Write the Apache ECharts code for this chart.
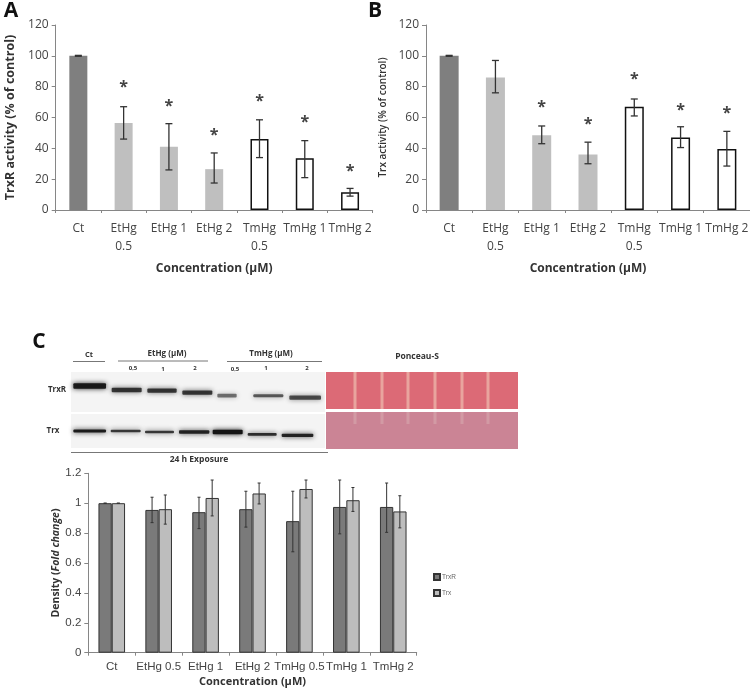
<!DOCTYPE html>
<html><head><meta charset="utf-8">
<style>html,body{margin:0;padding:0;background:#fff}#c{width:750px;height:689px}</style>
<script src="https://cdn.jsdelivr.net/npm/echarts@6/dist/echarts.min.js"></script>
</head><body><div id="c"></div>
<script>
const catsAB = ['Ct','EtHg\n0.5','EtHg 1','EtHg 2','TmHg\n0.5','TmHg 1','TmHg 2'];
const catsC = ['Ct','EtHg 0.5','EtHg 1','EtHg 2','TmHg 0.5','TmHg 1','TmHg 2'];

const trxrActivity = [100,56.5,41,26.5,46,33.5,11.5];
const trxrLow = [99.7,46,26,17.5,34,21,9];
const trxrHigh = [100.3,67,56,37,58.5,45,14];
const trxrStars = [null,81.7,69.2,50.5,72.4,58.8,27];

const trxActivity = [100,86,48.5,36,67,47,39.5];
const trxLow = [99.7,76,43,30,61,40.5,28.5];
const trxHigh = [100.3,97,54.5,44,72,54,51];
const trxStars = [null,null,68.5,57.3,86.5,66.4,64.9];

const densityTrxR = [1,0.955,0.94,0.96,0.88,0.975,0.975];
const densityTrxRLow = [1,0.87,0.83,0.84,0.675,0.795,0.805];
const densityTrxRHigh = [1,1.04,1.04,1.08,1.08,1.155,1.135];
const densityTrx = [1,0.96,1.035,1.065,1.095,1.02,0.945];
const densityTrxLow = [1,0.86,0.915,0.995,1.035,0.945,0.835];
const densityTrxHigh = [1,1.055,1.155,1.135,1.155,1.105,1.05];

const barFills = ['#7f7f7f','#bfbfbf','#bfbfbf','#bfbfbf','#ffffff','#ffffff','#ffffff'];
const FONT = '"Open Sans"';

function errSeries(idx, low, high, offset, cap, color, width){
  return {type:'custom',xAxisIndex:idx,yAxisIndex:idx,silent:true,clip:false,z:5,
    data:low.map((l,i)=>[i,l,high[i]]),
    renderItem:(p,api)=>{
      const a=api.coord([api.value(0),api.value(1)]),b=api.coord([api.value(0),api.value(2)]);
      const x=a[0]+offset, st={stroke:color,lineWidth:width};
      return {type:'group',children:[
        {type:'line',shape:{x1:x,y1:a[1],x2:x,y2:b[1]},style:st},
        {type:'line',shape:{x1:x-cap,y1:a[1],x2:x+cap,y2:a[1]},style:st},
        {type:'line',shape:{x1:x-cap,y1:b[1],x2:x+cap,y2:b[1]},style:st}]};
    }};
}
function starSeries(idx, stars){
  return {type:'custom',xAxisIndex:idx,yAxisIndex:idx,silent:true,clip:false,z:6,
    data:stars.map((s,i)=>[i,s]).filter(d=>d[1]!==null),
    renderItem:(p,api)=>{
      const c=api.coord([api.value(0),api.value(1)]);
      return {type:'text',x:c[0],y:c[1]+3,style:{text:'*',fill:'#444',font:'bold 16px '+FONT,textAlign:'center',textVerticalAlign:'middle'}};
    }};
}
function activityBar(idx,name,vals,w){
  return {type:'bar',name,xAxisIndex:idx,yAxisIndex:idx,barWidth:w,silent:true,
    data:vals.map((v,i)=>({value:v,itemStyle:{color:barFills[i],
      borderColor:barFills[i]==='#ffffff'?'#111':barFills[i],borderWidth:barFills[i]==='#ffffff'?1.5:0}}))};
}
function xAx(idx,cats,font,size,margin,gap){
  return {type:'category',gridIndex:idx,data:cats,
    name:'Concentration (µM)',nameLocation:'middle',nameGap:gap,
    nameTextStyle:{fontFamily:FONT,fontWeight:'bold',fontSize:idx===2?11:12,color:'#333'},
    axisLine:{lineStyle:{color:'#868686',width:1}},axisTick:{show:true,length:3,lineStyle:{color:'#868686'},alignWithLabel:false},
    axisLabel:{interval:0,hideOverlap:false,fontFamily:font,fontSize:size,color:'#444',margin,lineHeight:18}};
}
function yAx(idx,max,interval,name,nameStyle,nameGap,labelFont,size,fmt){
  return {type:'value',gridIndex:idx,min:0,max,interval,name,nameLocation:'middle',nameGap,nameRotate:90,nameTextStyle:nameStyle,
    splitLine:{show:false},axisLine:{show:true,lineStyle:{color:'#868686'}},axisTick:{show:true,length:4,lineStyle:{color:'#868686'}},
    axisLabel:{fontFamily:labelFont,fontSize:size,color:'#444',margin:7,formatter:fmt}};
}
function txt(x,y,s,size,weight,align,fill){
  return {type:'text',x,y,silent:true,style:{text:s,fill:fill||'#333',font:(weight||'normal')+' '+size+'px '+FONT,textAlign:align||'center',textVerticalAlign:'middle'}};
}
function blotBand(x1,x2,y,h,op){
  const X=20+x1/3,Y=325+(y-h/2)/3;
  return {type:'rect',silent:true,shape:{x:X,y:Y,width:(x2-x1)/3,height:h/3,r:1},
    style:{fill:'rgba(20,20,20,'+op+')',shadowBlur:5,shadowColor:'rgba(20,20,20,'+op+')'}};
}
function hLine(x1,x2,y,c){return {type:'line',silent:true,shape:{x1,y1:y,x2,y2:y},style:{stroke:c||'#777',lineWidth:1}};}
function rect(x,y,w,h,fill){return {type:'rect',silent:true,shape:{x,y,width:w,height:h},style:{fill}};}

const laneXs=[355,382,408,435,462,488];
const bandsTop=[[160,258,183,16,.95],[275,365,195,13,.8],[382,470,197,13,.8],[487,577,203,13,.8],[592,650,212,11,.55],[700,790,212,9,.65],[808,903,218,13,.7]];
const bandsBottom=[[160,258,318,9,.95],[272,362,318,7,.8],[375,462,321,8,.8],[477,568,321,11,.9],[578,668,321,13,1],[683,770,328,8,.85],[785,880,331,10,.9]];

const graphic=[
  txt(11,11,'A',21,'bold','center','#111'),
  txt(375,11,'B',21,'bold','center','#111'),
  txt(39,342,'C',21,'bold','center','#111'),
  rect(71,372,254,40,'#f4f4f4'),rect(71,414,254,34,'#f4f4f4'),
  ...bandsTop.map(b=>blotBand(...b)),...bandsBottom.map(b=>blotBand(...b)),
  rect(326,372,192,37,'#dc6a76'),rect(326,412,192,37,'#cb8495'),
  ...laneXs.map(x=>rect(x-1.5,372,3,37,'#e9a49e')),
  ...laneXs.map(x=>rect(x-1.5,412,3,12,'#d29aa4')),
  hLine(73,105,361.5),hLine(118,208,361),hLine(227,322,361.5),hLine(71,328,452.5),
  txt(89,354.5,'Ct',7.5,'bold'),txt(167,354,'EtHg (µM)',8,'bold'),txt(271,354,'TmHg (µM)',8,'bold'),
  txt(133,368.5,'0,5',6,'bold'),txt(163,369,'1',6,'bold'),txt(195,368.5,'2',6,'bold'),
  txt(235,369.5,'0,5',6,'bold'),txt(266,368.5,'1',6,'bold'),txt(307,368.5,'2',6,'bold'),
  txt(57,390,'TrxR',8,'bold'),txt(53,431,'Trx',8,'bold'),
  txt(417,357,'Ponceau-S',8.5,'bold'),
  txt(199,460,'24 h Exposure',8.5,'bold')
];

const chart=echarts.init(document.getElementById('c'),null,{renderer:'canvas'});
chart.setOption({
  animation:false,backgroundColor:'#fff',
  grid:[
    {left:55.7,top:25,width:317,height:185,outerBoundsMode:'none'},
    {left:426,top:25,width:324,height:185,outerBoundsMode:'none'},
    {left:88.3,top:473.3,width:328.4,height:179.4,outerBoundsMode:'none'}
  ],
  legend:{data:['TrxR','Trx'],orient:'vertical',left:428,top:568,itemWidth:6,itemHeight:6,itemGap:8,icon:'rect',selectedMode:false,
    textStyle:{fontFamily:'"Liberation Sans"',fontSize:6.5,color:'#666',padding:[0,0,0,-3]}},
  xAxis:[
    xAx(0,catsAB,FONT,12,10,53),
    xAx(1,catsAB,FONT,12,10,53),
    xAx(2,catsC,'"Liberation Sans"',11.5,5,22)
  ],
  yAxis:[
    yAx(0,120,20,'TrxR activity (% of control)',{fontFamily:FONT,fontWeight:'bold',fontSize:12.5,color:'#333'},39,FONT,12),
    yAx(1,120,20,'Trx activity (% of control)',{fontFamily:FONT,fontSize:10,fontWeight:600,color:'#333'},38,FONT,12),
    yAx(2,1.2,0.2,'{b|Density (}{i|Fold change}{b|)}',{rich:{
        b:{fontFamily:FONT,fontWeight:'bold',fontSize:10.5,color:'#333'},
        i:{fontFamily:FONT,fontWeight:'bold',fontStyle:'italic',fontSize:10.5,color:'#333'}}},27,'"Liberation Sans"',11.5,
      v=>String(Math.round(v*10)/10))
  ],
  series:[
    activityBar(0,'TrxR activity',trxrActivity,18),
    errSeries(0,trxrLow,trxrHigh,0,3.5,'#333',1.3),
    starSeries(0,trxrStars),
    activityBar(1,'Trx activity',trxActivity,19),
    errSeries(1,trxLow,trxHigh,0,3.5,'#333',1.3),
    starSeries(1,trxStars),
    {type:'bar',name:'TrxR',xAxisIndex:2,yAxisIndex:2,data:densityTrxR,barWidth:13.3,barGap:'0%',silent:true,
      itemStyle:{color:'#7a7a7a',borderColor:'#333',borderWidth:1}},
    {type:'bar',name:'Trx',xAxisIndex:2,yAxisIndex:2,data:densityTrx,barWidth:13.3,silent:true,
      itemStyle:{color:'#bdbdbd',borderColor:'#333',borderWidth:1}},
    errSeries(2,densityTrxRLow,densityTrxRHigh,-6.6,1.5,'#333',1),
    errSeries(2,densityTrxLow,densityTrxHigh,6.6,1.5,'#333',1)
  ],
  graphic
});
</script></body></html>
